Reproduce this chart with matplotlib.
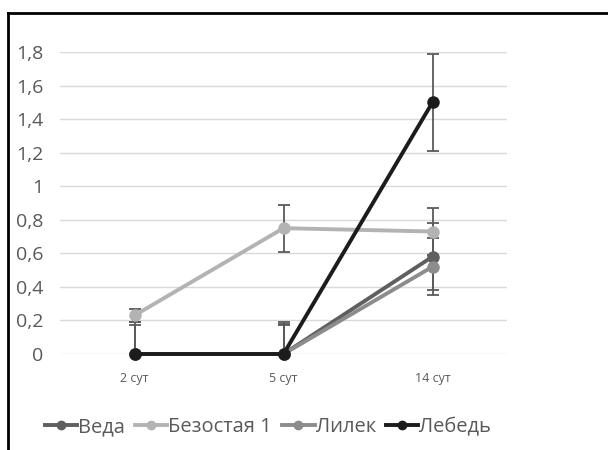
import matplotlib
matplotlib.use("Agg")
import matplotlib.pyplot as plt
from matplotlib.lines import Line2D

# data
days = ["2 сут", "5 сут", "14 сут"]
names = ["Веда", "Безостая 1", "Лилек", "Лебедь"]
veda = [0, 0, 0.58]
bezostaya = [0.23, 0.75, 0.73]
lilek = [0, 0, 0.52]
lebed = [0, 0, 1.5]
veda_err = [0.19, 0.19, 0.2]
bezostaya_err = [0.04, 0.14, 0.14]
lilek_err = [0.17, 0.17, 0.17]
lebed_err = [0, 0.18, 0.29]
colors = ["#5f5f5f", "#b3b3b3", "#8c8c8c", "#1c1c1c"]
yticks = [0, 0.2, 0.4, 0.6, 0.8, 1, 1.2, 1.4, 1.6, 1.8]

plt.rcParams['font.family'] = ['Open Sans', 'DejaVu Sans']

fig = plt.figure(figsize=(6.08, 4.5), dpi=100)
ax = fig.add_axes([60/608, 96/450, 447/608, 302/450])

x = list(range(len(days)))
series = [veda, bezostaya, lilek, lebed]
errs = [veda_err, bezostaya_err, lilek_err, lebed_err]

# error bars first (clipped at zero like the original)
for vals, e in zip(series, errs):
    lo = [min(v, ee) for v, ee in zip(vals, e)]
    ax.errorbar(x, vals, yerr=[lo, e], fmt='none', ecolor="#5a5a5a",
                elinewidth=1.3, capsize=4, capthick=1.3, zorder=2, clip_on=False)

for vals, c, n in zip(series, colors, names):
    ax.plot(x, vals, color=c, lw=2.8, marker='o', ms=8, label=n,
            zorder=3, clip_on=False)

ax.set_xlim(-0.5, 2.5)
ax.set_ylim(0, 1.8)
ax.set_yticks(yticks)
ax.set_yticklabels([("%g" % t).replace(".", ",") for t in yticks],
                   fontsize=14, color="#595959")
ax.set_xticks(x)
ax.set_xticklabels(days, fontsize=9, color="#595959")
ax.tick_params(length=0)
ax.tick_params(axis='x', pad=13)
ax.tick_params(axis='y', pad=12)
ax.grid(axis='y', color="#d9d9d9", lw=1)
ax.set_axisbelow(True)
for s in ax.spines.values():
    s.set_visible(False)

handles = [Line2D([], [], color=c, lw=2.8, marker='o', ms=6) for c in colors]
leg = fig.legend(handles, names, loc='center', bbox_to_anchor=(268/608, 1 - 427/450),
                 ncol=4, frameon=False, fontsize=14.5, handlelength=1.6,
                 handletextpad=0.05, columnspacing=0.5, labelcolor="#595959")

# frame lines of the original screenshot (top and left only)
fig.add_artist(Line2D([8/608, 1], [1 - 13/450, 1 - 13/450], color="black", lw=2))
fig.add_artist(Line2D([8/608, 8/608], [0, 1 - 13/450], color="black", lw=2))

fig.savefig("out.png", dpi=100)
